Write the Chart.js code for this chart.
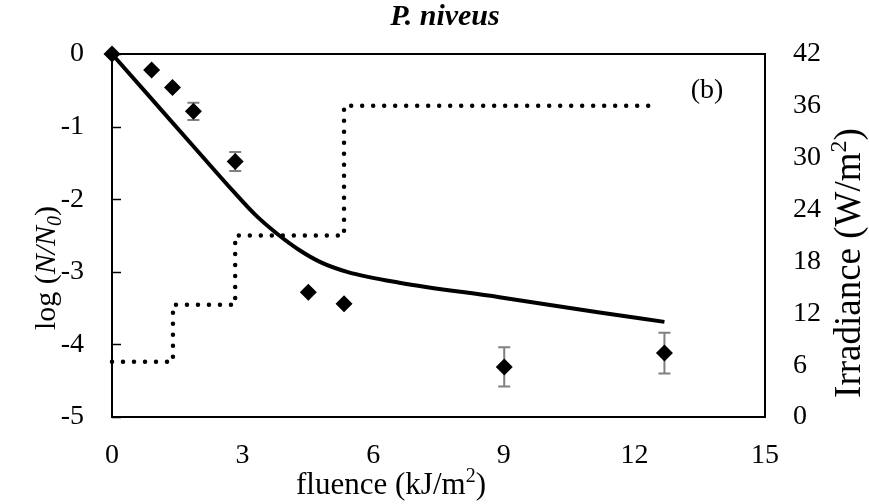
<!DOCTYPE html>
<html>
<head>
<meta charset="utf-8">
<script src="https://cdn.jsdelivr.net/npm/chart.js@4.4.1/dist/chart.umd.min.js"></script>
<style>
html,body{margin:0;padding:0;background:#fff;}
#wrap{width:869px;height:504px;position:relative;}
</style>
</head>
<body>
<div id="wrap"><canvas id="c" width="869" height="504"></canvas></div>
<script>
// ---- data ----
const chartTitle = 'P. niveus';
const panelLabel = '(b)';
const fluence = [0, 0.91, 1.39, 1.87, 2.83, 4.51, 5.33, 9.01, 12.69];
const logSurvival = [0, -0.22, -0.46, -0.79, -1.48, -3.28, -3.44, -4.31, -4.12];
const logSurvivalErr = [0, 0, 0, 0.12, 0.13, 0, 0, 0.27, 0.28];
const modelFluence = [0, 1.0, 2.0, 2.8, 3.3, 3.8, 4.3, 4.8, 5.4, 6.6, 8.9, 11.2, 12.69];
const modelLogSurvival = [0, -0.68, -1.36, -1.9, -2.22, -2.48, -2.7, -2.87, -3.0, -3.15, -3.35, -3.56, -3.69];
const irrFluence = [0, 1.40, 2.83, 5.33, 12.46];
const irradiance = [6.4, 13, 21, 36, 36];
const xTicks = [0, 3, 6, 9, 12, 15];
const yTicks = [0, -1, -2, -3, -4, -5];
const y1Ticks = [0, 6, 12, 18, 24, 30, 36, 42];

const FONT = '"Liberation Serif", "Times New Roman", serif';
const FS = 28;

function pts(xs, ys){ return xs.map((x,i)=>({x:x, y:ys[i]})); }

function drawMixed(ctx, segs, cx, cy, rot){
  ctx.save();
  ctx.translate(cx, cy);
  if (rot) ctx.rotate(rot);
  let total = 0;
  segs.forEach(s => { ctx.font = s.font; s.w = ctx.measureText(s.t).width; total += s.w; });
  let x = -total/2;
  ctx.fillStyle = '#000';
  ctx.textBaseline = 'alphabetic';
  ctx.textAlign = 'left';
  segs.forEach(s => { ctx.font = s.font; ctx.fillText(s.t, x, (s.dy||0)); x += s.w; });
  ctx.restore();
}

const decor = {
  id: 'decor',
  beforeDatasetsDraw(chart){
    const ctx = chart.ctx, xs = chart.scales.x, ys = chart.scales.y;
    ctx.save();
    ctx.strokeStyle = '#000'; ctx.lineWidth = 1.5;
    yTicks.forEach(v => {
      const py = Math.round(ys.getPixelForValue(v)) + 0.5;
      ctx.beginPath(); ctx.moveTo(xs.left, py); ctx.lineTo(xs.left + 9, py); ctx.stroke();
    });
    ctx.strokeStyle = '#808080'; ctx.lineWidth = 2;
    fluence.forEach((f, i) => {
      const e = logSurvivalErr[i];
      if (!e) return;
      const px = xs.getPixelForValue(f);
      const top = ys.getPixelForValue(logSurvival[i] + e);
      const bot = ys.getPixelForValue(logSurvival[i] - e);
      ctx.beginPath();
      ctx.moveTo(px, top); ctx.lineTo(px, bot);
      ctx.moveTo(px-6, top); ctx.lineTo(px+6, top);
      ctx.moveTo(px-6, bot); ctx.lineTo(px+6, bot);
      ctx.stroke();
    });
    ctx.restore();
  },
  afterDraw(chart){
    const ctx = chart.ctx, a = chart.chartArea;
    ctx.save();
    ctx.strokeStyle = '#000'; ctx.lineWidth = 2;
    ctx.strokeRect(a.left, a.top, a.right - a.left, a.bottom - a.top);
    ctx.restore();
    const f = (sz, st) => (st ? st + ' ' : '') + sz + 'px ' + FONT;
    drawMixed(ctx, [{t: chartTitle, font: f(30, 'bold italic')}], 445, 25, 0);
    drawMixed(ctx, [{t: panelLabel, font: f(FS)}], 707, 98, 0);
    drawMixed(ctx, [{t:'fluence (kJ/m', font: f(31)},{t:'2', font: f(20), dy:-12},{t:')', font: f(31)}], 391, 494, 0);
    drawMixed(ctx, [{t:'log (', font: f(30)},{t:'N/N', font: f(30,'italic')},{t:'0', font: f(20,'italic'), dy:6},{t:')', font: f(30)}], 55, 268, -Math.PI/2);
    drawMixed(ctx, [{t:'Irradiance (W/m', font: f(37)},{t:'2', font: f(24), dy:-14},{t:')', font: f(37)}], 860, 263, -Math.PI/2);
  }
};

new Chart(document.getElementById('c'), {
  type: 'scatter',
  data: {
    datasets: [
      {
        label: 'Irradiance',
        type: 'line',
        data: pts(irrFluence, irradiance),
        yAxisID: 'y1',
        stepped: 'before',
        borderColor: '#000',
        borderWidth: 4.5,
        borderDash: [0, 11],
        borderCapStyle: 'round',
        pointRadius: 0,
        fill: false,
        clip: false,
        order: 3
      },
      {
        label: 'Model',
        type: 'line',
        data: pts(modelFluence, modelLogSurvival),
        yAxisID: 'y',
        borderColor: '#000',
        borderWidth: 4,
        borderJoinStyle: 'round',
        cubicInterpolationMode: 'monotone',
        pointRadius: 0,
        fill: false,
        clip: false,
        order: 2
      },
      {
        label: 'Observed',
        data: pts(fluence, logSurvival),
        yAxisID: 'y',
        pointStyle: 'rectRot',
        pointRadius: 8.5,
        backgroundColor: '#000',
        borderColor: '#000',
        borderWidth: 0,
        clip: false,
        order: 1
      }
    ]
  },
  options: {
    responsive: false,
    animation: false,
    events: [],
    layout: { padding: { top: 54, left: 0, right: 0, bottom: 0 } },
    plugins: { legend: { display: false }, tooltip: { enabled: false }, title: { display: false } },
    scales: {
      x: {
        type: 'linear', min: 0, max: 15,
        afterBuildTicks: s => { s.ticks = xTicks.map(v => ({value: v})); },
        afterFit: s => { s.height = 87; },
        grid: { display: false, drawTicks: false },
        border: { display: false },
        ticks: { color: '#000', font: { family: FONT, size: FS }, padding: 22, maxRotation: 0 }
      },
      y: {
        type: 'linear', position: 'left', min: -5, max: 0,
        afterBuildTicks: s => { s.ticks = yTicks.map(v => ({value: v})); },
        afterFit: s => { s.width = 112; },
        grid: { display: false, drawTicks: false },
        border: { display: false },
        ticks: { color: '#000', font: { family: FONT, size: FS }, padding: 28 }
      },
      y1: {
        type: 'linear', position: 'right', min: 0, max: 42,
        afterBuildTicks: s => { s.ticks = y1Ticks.map(v => ({value: v})); },
        afterFit: s => { s.width = 104; },
        grid: { display: false, drawTicks: false },
        border: { display: false },
        ticks: { color: '#000', font: { family: FONT, size: FS }, padding: 28 }
      }
    }
  },
  plugins: [decor]
});
</script>
</body>
</html>
